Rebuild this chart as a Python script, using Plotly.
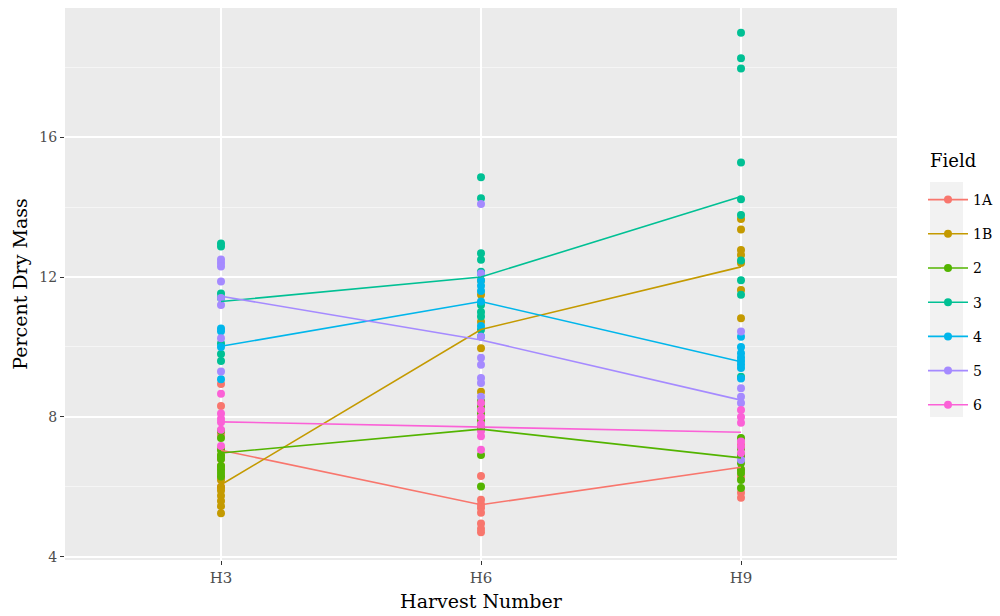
import plotly.graph_objects as go

harvests = ["H3", "H6", "H9"]
fields = ["1A", "1B", "2", "3", "4", "5", "6"]
colors = ["#F8766D", "#C49A00", "#53B400", "#00C094", "#00B6EB", "#A58AFF", "#FB61D7"]

# observed points per field, per harvest (H3, H6, H9)
pts_1A = [[8.94, 8.31, 7.5, 7.1, 6.8, 6.5, 6.3, 6.0],
          [6.31, 5.63, 5.5, 5.4, 5.26, 4.95, 4.8, 4.7],
          [7.2, 6.9, 6.5, 6.3, 5.83, 5.69]]
pts_1B = [[6.9, 6.6, 6.2, 6.0, 5.9, 5.75, 5.6, 5.45, 5.25],
          [11.9, 11.49, 10.72, 9.96, 8.72],
          [13.66, 13.36, 12.77, 12.63, 12.4, 11.63, 10.82]]
pts_2 = [[7.6, 7.4, 7.05, 6.9, 6.8, 6.6, 6.5, 6.4, 6.3],
         [8.45, 8.3, 8.1, 7.9, 7.7, 6.91, 6.01],
         [7.4, 7.1, 6.9, 6.68, 6.5, 6.4, 6.2, 5.97]]
pts_3 = [[12.96, 12.87, 11.53, 11.4, 10.1, 9.8, 9.6],
         [14.85, 14.25, 12.68, 12.49, 12.15, 11.2, 11.0, 10.87, 10.49],
         [18.98, 18.25, 17.96, 15.27, 14.22, 13.77, 12.47, 11.91, 11.49, 9.15]]
pts_4 = [[10.53, 10.45, 10.0, 9.08],
         [12.1, 11.9, 11.75, 11.6, 11.3, 10.6, 10.3],
         [10.29, 10.0, 9.82, 9.7, 9.6, 9.5, 9.4, 9.1]]
pts_5 = [[12.5, 12.4, 12.3, 11.87, 11.4, 11.2, 10.25, 9.3],
         [14.09, 12.1, 10.29, 9.69, 9.49, 9.11, 8.97, 8.58],
         [10.44, 8.82, 8.58, 8.4, 6.77]]
pts_6 = [[8.66, 8.1, 7.95, 7.85, 7.63, 7.17],
         [8.4, 8.2, 8.0, 7.8, 7.6, 7.45, 7.06],
         [8.2, 8.0, 7.83, 7.3, 7.15, 6.97]]
points = [pts_1A, pts_1B, pts_2, pts_3, pts_4, pts_5, pts_6]

# mean lines (H3, H6, H9)
mean_1A = [7.05, 5.49, 6.56]
mean_1B = [6.06, 10.5, 12.29]
mean_2 = [6.97, 7.65, 6.83]
mean_3 = [11.3, 12.0, 14.3]
mean_4 = [10.02, 11.3, 9.58]
mean_5 = [11.45, 10.2, 8.48]
mean_6 = [7.86, 7.72, 7.56]
means = [mean_1A, mean_1B, mean_2, mean_3, mean_4, mean_5, mean_6]

FONT = "DejaVu Serif"
L, R, T, B = 65, 897, 8, 560
PW, PH = R - L, B - T

def px(x):
    return (x - L) / PW

def py(y):
    return 1 - (y - T) / PH

fig = go.Figure()
for f, c, p in zip(fields, colors, points):
    xs, ys = [], []
    for h, vals in zip(harvests, p):
        xs += [h] * len(vals)
        ys += vals
    fig.add_trace(go.Scatter(x=xs, y=ys, mode="markers", showlegend=False,
                             marker=dict(color=c, size=8, line=dict(width=0))))
for f, c, m in zip(fields, colors, means):
    fig.add_trace(go.Scatter(x=harvests, y=m, mode="lines", showlegend=False,
                             line=dict(color=c, width=1.6)))
for f, c in zip(fields, colors):
    fig.add_trace(go.Scatter(x=[None], y=[None], mode="lines+markers", name=f,
                             legendgroup=f, line=dict(color=c, width=1.6),
                             marker=dict(color=c, size=8)))

# legend key background
fig.add_shape(type="rect", xref="paper", yref="paper",
              x0=px(930), x1=px(963), y0=py(417), y1=py(182),
              fillcolor="#F2F2F2", line=dict(width=0), layer="below")

fig.add_annotation(text="Field", xref="paper", yref="paper", x=px(928), y=py(160),
                   xanchor="left", yanchor="middle", showarrow=False,
                   font=dict(size=18, family=FONT, color="black"))

fig.update_layout(
    width=1000, height=616,
    margin=dict(l=L, r=1000 - R, t=T, b=616 - B, autoexpand=False),
    paper_bgcolor="white", plot_bgcolor="#EBEBEB",
    font=dict(family=FONT, color="black"),
    legend=dict(x=px(923), xanchor="left", y=py(184), yanchor="top",
                font=dict(size=14, family=FONT), tracegroupgap=13,
                bgcolor="rgba(0,0,0,0)", itemwidth=40),
    xaxis=dict(type="category", categoryorder="array", categoryarray=harvests,
               range=[-0.6, 2.6], showgrid=True, gridcolor="white", gridwidth=1.5,
               ticks="outside", ticklen=4, tickcolor="#333333",
               tickfont=dict(size=15, color="#4D4D4D", family=FONT),
               title=dict(text="Harvest Number", font=dict(size=19, family=FONT), standoff=8),
               zeroline=False, showline=False),
    yaxis=dict(range=[3.91, 19.69], tickvals=[4, 8, 12, 16], showgrid=True,
               gridcolor="white", gridwidth=1.5,
               minor=dict(tickvals=[6, 10, 14, 18], showgrid=True, gridcolor="#F5F5F5", gridwidth=0.8),
               ticks="outside", ticklen=4, tickcolor="#333333",
               tickfont=dict(size=14, color="#4D4D4D", family=FONT),
               title=dict(text="Percent Dry Mass", font=dict(size=19, family=FONT), standoff=6),
               zeroline=False, showline=False),
)

fig.write_html("out.html")
